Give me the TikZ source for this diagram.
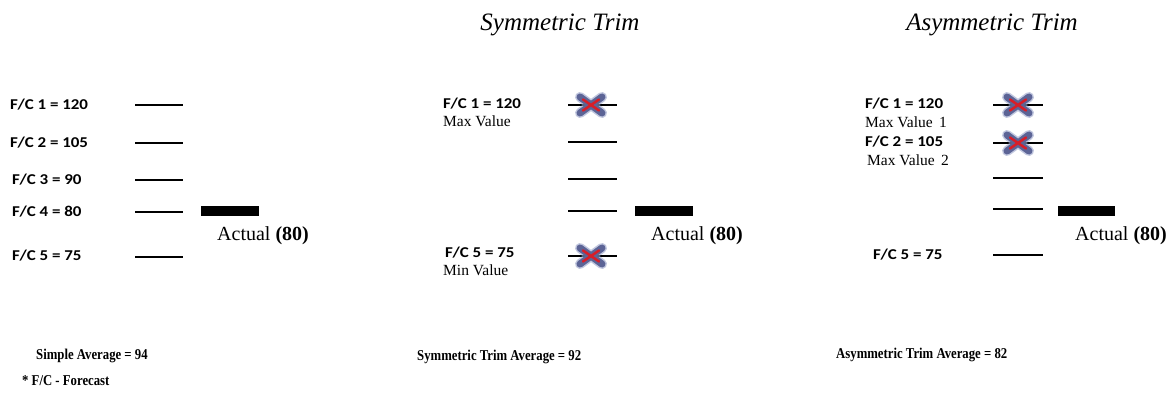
\documentclass[tikz,border=0pt]{standalone}
\usepackage{fontspec}
\setmainfont{Liberation Serif}
\newfontfamily\calib[FakeStretch=1.13]{Carlito}
\newfontfamily\condb[FakeStretch=0.85]{Liberation Serif}
\definecolor{xblue}{RGB}{92,100,150}
\definecolor{xhalo}{RGB}{150,160,200}
\definecolor{xred}{RGB}{215,30,40}
\begin{document}
\begin{tikzpicture}[x=1pt,y=-1pt,
  fc/.style={anchor=west,inner sep=0pt,font=\calib\bfseries\fontsize{15}{16}\selectfont},
  sub/.style={anchor=west,inner sep=0pt,font=\fontsize{15.5}{16}\selectfont},
  avg/.style={anchor=west,inner sep=0pt,font=\condb\bfseries\fontsize{15}{16}\selectfont},
  ttl/.style={anchor=base,inner sep=0pt,font=\itshape\fontsize{25}{27}\selectfont},
  act/.style={anchor=base west,inner sep=0pt,font=\fontsize{20}{22}\selectfont},
  fline/.style={line width=1.4pt},
  bar/.style={fill=black},
  xhal/.style={line width=10pt,xhalo,line cap=round,opacity=0.6},
  xout/.style={line width=7pt,xblue,line cap=round},
  xin/.style={line width=2.5pt,xred,line cap=round}
]
\useasboundingbox (0,0) rectangle (1172,402);
% ---- left panel
\node[fc] (l1) at (10,105) {F/C 1 = 120};
\node[fc] (l2) at (10,143) {F/C 2 = 105};
\node[fc] (l3) at (12,180) {F/C 3 = 90};
\node[fc] (l4) at (12,212) {F/C 4 = 80};
\node[fc] (l5) at (12,256) {F/C 5 = 75};
\foreach \y in {105,143,180,212,257} \draw[fline] (135,\y) -- (183,\y);
\fill[bar] (201,206) rectangle (259,216);
\node[act] (la) at (217,240) {Actual \textbf{(80)}};
\node[avg] (lavg) at (36,356) {Simple Average = 94};
\node[avg] (note) at (22,381) {* F/C - Forecast};
% ---- middle panel
\node[ttl] (mt) at (560,30) {Symmetric Trim};
\node[fc] (m1) at (443,104) {F/C 1 = 120};
\node[sub] (m1s) at (443,121) {Max Value};
\node[fc] (m5) at (445,253) {F/C 5 = 75};
\node[sub] (m5s) at (443,270) {Min Value};
\foreach \y in {105,142,179,211,256} \draw[fline] (568,\y) -- (617,\y);
\foreach \y in {105,256}{
  \draw[xhal] (580,\y-8) -- (602,\y+8) (580,\y+8) -- (602,\y-8);
  \draw[xout] (580,\y-8) -- (602,\y+8) (580,\y+8) -- (602,\y-8);
  \draw[xin] (583,\y-5.5) -- (599,\y+5.5) (583,\y+5.5) -- (599,\y-5.5);
  \draw[fline] (568,\y) -- (576,\y) (606,\y) -- (617,\y);
}
\fill[bar] (635,206) rectangle (693,216);
\node[act] (ma) at (651,240) {Actual \textbf{(80)}};
\node[avg] (mavg) at (417,357) {Symmetric Trim Average = 92};
% ---- right panel
\node[ttl] (rt) at (992,30) {Asymmetric Trim};
\node[fc] (r1) at (865,104) {F/C 1 = 120};
\node[sub] (r1s) at (865,122) {Max Value\, 1};
\node[fc] (r2) at (865,142) {F/C 2 = 105};
\node[sub] (r2s) at (867,160) {Max Value\, 2};
\node[fc] (r5) at (873,255) {F/C 5 = 75};
\foreach \y in {105,143,178,209,255} \draw[fline] (993,\y) -- (1043,\y);
\foreach \y in {105,143}{
  \draw[xhal] (1007,\y-8) -- (1029,\y+8) (1007,\y+8) -- (1029,\y-8);
  \draw[xout] (1007,\y-8) -- (1029,\y+8) (1007,\y+8) -- (1029,\y-8);
  \draw[xin] (1010,\y-5.5) -- (1026,\y+5.5) (1010,\y+5.5) -- (1026,\y-5.5);
  \draw[fline] (993,\y) -- (1003,\y) (1033,\y) -- (1043,\y);
}
\fill[bar] (1058,206) rectangle (1115,216);
\node[act] (ra) at (1075,240) {Actual \textbf{(80)}};
\node[avg] (ravg) at (836,355) {Asymmetric Trim Average = 82};
\end{tikzpicture}
\end{document}
